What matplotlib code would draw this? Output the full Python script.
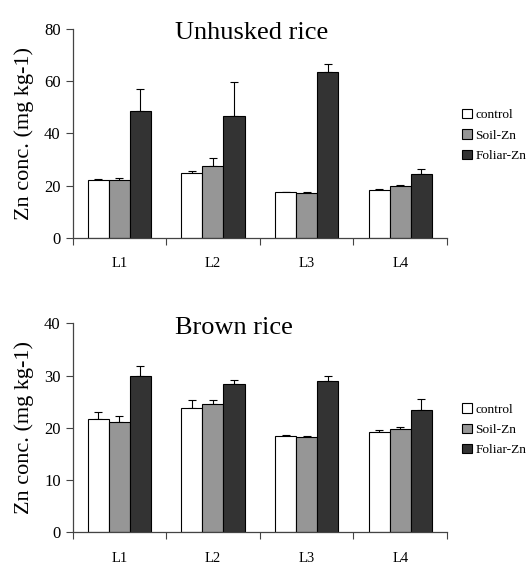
import numpy as np
import matplotlib
matplotlib.use("Agg")
import matplotlib.pyplot as plt

plt.rcParams["font.family"] = ["Liberation Serif", "DejaVu Serif"]

sites = ["L1", "L2", "L3", "L4"]
treatments = ["control", "Soil-Zn", "Foliar-Zn"]
colors = ["#ffffff", "#969696", "#333333"]

# Unhusked rice: means and (upper) error
unhusked = {
    "control": [22.0, 24.7, 17.5, 18.5],
    "Soil-Zn": [22.0, 27.5, 17.2, 20.0],
    "Foliar-Zn": [48.4, 46.5, 63.6, 24.3],
}
unhusked_err = {
    "control": [0.4, 1.0, 0.2, 0.3],
    "Soil-Zn": [1.0, 3.1, 0.3, 0.4],
    "Foliar-Zn": [8.7, 13.1, 2.8, 1.9],
}

# Brown rice
brown = {
    "control": [21.7, 23.8, 18.4, 19.2],
    "Soil-Zn": [21.2, 24.6, 18.2, 19.8],
    "Foliar-Zn": [29.9, 28.3, 29.0, 23.5],
}
brown_err = {
    "control": [1.4, 1.6, 0.2, 0.4],
    "Soil-Zn": [1.1, 0.8, 0.3, 0.4],
    "Foliar-Zn": [2.0, 0.8, 0.9, 2.0],
}


def draw_panel(ax, data, errs, title, ymax, ystep):
    x = np.arange(len(sites))
    width = 0.225
    handles = []
    for i, t in enumerate(treatments):
        vals = np.array(data[t])
        e = np.array(errs[t])
        b = ax.bar(x + (i - 1) * width, vals, width, color=colors[i],
                   edgecolor="black", linewidth=0.8, label=t, zorder=2)
        ax.errorbar(x + (i - 1) * width, vals, yerr=[np.zeros_like(e), e],
                    fmt="none", ecolor="black", elinewidth=0.8,
                    capsize=3, capthick=0.8, zorder=1)
        handles.append(b)

    ax.set_xlim(-0.5, len(sites) - 0.5)
    ax.set_ylim(0, ymax)
    ax.set_yticks(np.arange(0, ymax + 1, ystep))
    ax.set_xticks(x)
    ax.set_xticklabels(sites)
    ax.set_xticks(np.arange(-0.5, len(sites), 1), minor=True)
    ax.tick_params(axis="x", which="major", length=0, pad=14, labelsize=10.5)
    ax.tick_params(axis="x", which="minor", length=5, width=0.8, color="#444444")
    ax.tick_params(axis="y", length=5, width=0.8, color="#444444", labelsize=12)

    for s in ["top", "right"]:
        ax.spines[s].set_visible(False)
    for s in ["left", "bottom"]:
        ax.spines[s].set_color("#444444")
        ax.spines[s].set_linewidth(0.9)

    ax.set_ylabel("Zn conc. (mg kg-1)", fontsize=16, labelpad=7)
    ax.text(0.274, 1.03, title, transform=ax.transAxes, fontsize=19,
            ha="left", va="top")

    ax.legend(handles=handles, labels=treatments, loc="center left",
              bbox_to_anchor=(1.005, 0.49), frameon=False, fontsize=9.6,
              handlelength=0.7, handleheight=0.7, handletextpad=0.3,
              labelspacing=0.6, borderaxespad=0.6)


fig = plt.figure(figsize=(5.27, 5.64), dpi=100)
ax1 = fig.add_axes([0.1376, 0.578, 0.7106, 0.371])
ax2 = fig.add_axes([0.1376, 0.0562, 0.7106, 0.3706])

draw_panel(ax1, unhusked, unhusked_err, "Unhusked rice", 80, 20)
draw_panel(ax2, brown, brown_err, "Brown rice", 40, 10)

fig.savefig("out.png", dpi=100)
